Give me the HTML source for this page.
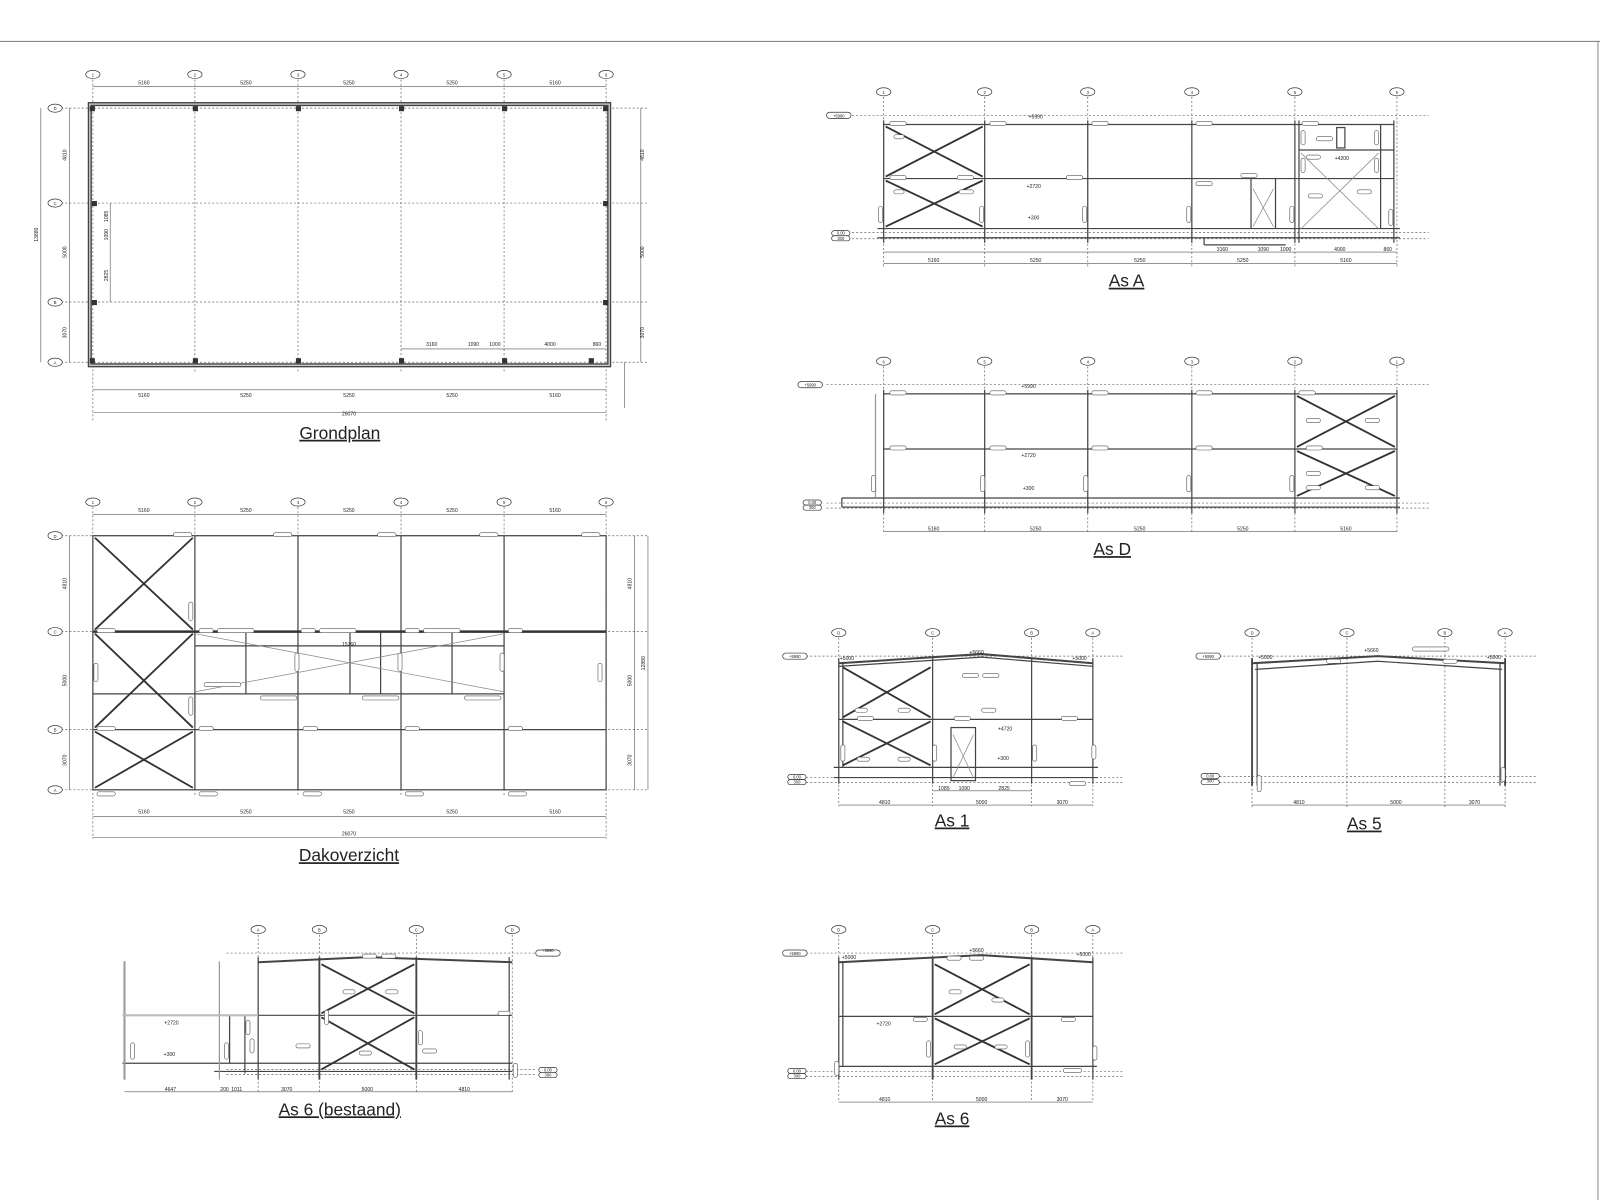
<!DOCTYPE html>
<html><head><meta charset="utf-8"><style>
html,body{margin:0;padding:0;background:#fff}
svg{display:block}
text{font-family:"Liberation Sans",sans-serif;fill:#222}
.g{stroke:#666;stroke-width:.7;stroke-dasharray:2 2;fill:none}
.f{stroke:#333;stroke-width:2.2;fill:none}
.m{stroke:#444;stroke-width:1.2;fill:none}
.t{stroke:#555;stroke-width:.6;fill:none}
.x{stroke:#333;stroke-width:1.8;fill:none}
.xl{stroke:#888;stroke-width:.7;fill:none}
.c{fill:#fff;stroke:#333;stroke-width:.7}
.p{fill:#fff;stroke:#555;stroke-width:.6}
.d{font-size:5px;text-anchor:middle}
.ti{font-size:17px;text-anchor:middle;text-decoration:underline}
</style></head><body>
<svg width="1600" height="1200" viewBox="0 0 1568 1176" preserveAspectRatio="none">
<line x1="0" y1="40.5" x2="1568" y2="40.5" stroke="#777" stroke-width="1"/>
<line x1="1566" y1="40" x2="1566" y2="1176" stroke="#888" stroke-width="1"/>

<!-- ========== GRONDPLAN ========== -->
<g>
<g class="g">
<line x1="91" y1="78" x2="91" y2="412"/><line x1="191" y1="78" x2="191" y2="365"/><line x1="292" y1="78" x2="292" y2="365"/><line x1="393" y1="78" x2="393" y2="365"/><line x1="494" y1="78" x2="494" y2="365"/><line x1="594" y1="78" x2="594" y2="412"/>
<line x1="60" y1="106" x2="635" y2="106"/><line x1="60" y1="199" x2="635" y2="199"/><line x1="60" y1="296" x2="635" y2="296"/><line x1="60" y1="355" x2="635" y2="355"/>
</g>
<g class="c">
<ellipse cx="91" cy="73" rx="7" ry="4"/><ellipse cx="191" cy="73" rx="7" ry="4"/><ellipse cx="292" cy="73" rx="7" ry="4"/><ellipse cx="393" cy="73" rx="7" ry="4"/><ellipse cx="494" cy="73" rx="7" ry="4"/><ellipse cx="594" cy="73" rx="7" ry="4"/>
<ellipse cx="54" cy="106" rx="7" ry="4"/><ellipse cx="54" cy="199" rx="7" ry="4"/><ellipse cx="54" cy="296" rx="7" ry="4"/><ellipse cx="54" cy="355" rx="7" ry="4"/>
</g>
<g font-size="4" text-anchor="middle"><text x="91" y="75">1</text><text x="191" y="75">2</text><text x="292" y="75">3</text><text x="393" y="75">4</text><text x="494" y="75">5</text><text x="594" y="75">6</text><text x="54" y="108">D</text><text x="54" y="201">C</text><text x="54" y="298">B</text><text x="54" y="357">A</text></g>
<rect x="88" y="102" width="509" height="256" fill="none" stroke="#444" stroke-width="4"/>
<rect x="88" y="102" width="509" height="256" fill="none" stroke="#ddd" stroke-width="1.2"/>
<g fill="#333"><rect x="88" y="104" width="5" height="5"/><rect x="189" y="104" width="5" height="5"/><rect x="290" y="104" width="5" height="5"/><rect x="391" y="104" width="5" height="5"/><rect x="492" y="104" width="5" height="5"/><rect x="591" y="104" width="5" height="5"/>
<rect x="90" y="197" width="5" height="5"/><rect x="90" y="294" width="5" height="5"/><rect x="591" y="197" width="5" height="5"/><rect x="591" y="294" width="5" height="5"/>
<rect x="88" y="351" width="5" height="5"/><rect x="189" y="351" width="5" height="5"/><rect x="290" y="351" width="5" height="5"/><rect x="391" y="351" width="5" height="5"/><rect x="492" y="351" width="5" height="5"/><rect x="577" y="351" width="5" height="5"/></g>
<g class="t"><line x1="91" y1="85" x2="594" y2="85"/><line x1="91" y1="382" x2="594" y2="382"/><line x1="91" y1="404" x2="594" y2="404"/>
<line x1="40" y1="106" x2="40" y2="355"/><line x1="68" y1="106" x2="68" y2="355"/><line x1="628" y1="106" x2="628" y2="355"/><line x1="108" y1="199" x2="108" y2="296"/>
<line x1="393" y1="342" x2="594" y2="342"/><line x1="612" y1="355" x2="612" y2="400"/></g>
<g class="d"><text x="141" y="83">5160</text><text x="241" y="83">5250</text><text x="342" y="83">5250</text><text x="443" y="83">5250</text><text x="544" y="83">5160</text>
<text x="141" y="389">5160</text><text x="241" y="389">5250</text><text x="342" y="389">5250</text><text x="443" y="389">5250</text><text x="544" y="389">5160</text><text x="342" y="407">26070</text>
<text x="423" y="339">3160</text><text x="464" y="339">1090</text><text x="485" y="339">1000</text><text x="539" y="339">4000</text><text x="585" y="339">860</text>
<text transform="translate(37,230) rotate(-90)">13880</text><text transform="translate(65,152) rotate(-90)">4810</text><text transform="translate(65,247) rotate(-90)">5000</text><text transform="translate(65,326) rotate(-90)">3070</text>
<text transform="translate(631,152) rotate(-90)">4810</text><text transform="translate(631,247) rotate(-90)">5000</text><text transform="translate(631,326) rotate(-90)">3070</text>
<text transform="translate(106,212) rotate(-90)">1085</text><text transform="translate(106,230) rotate(-90)">1090</text><text transform="translate(106,270) rotate(-90)">2825</text></g>
<text class="ti" x="333" y="430">Grondplan</text>
</g>

<!-- ========== DAKOVERZICHT ========== -->
<g>
<g class="g">
<line x1="91" y1="497" x2="91" y2="822"/><line x1="191" y1="497" x2="191" y2="780"/><line x1="292" y1="497" x2="292" y2="780"/><line x1="393" y1="497" x2="393" y2="780"/><line x1="494" y1="497" x2="494" y2="780"/><line x1="594" y1="497" x2="594" y2="822"/>
<line x1="60" y1="525" x2="635" y2="525"/><line x1="60" y1="619" x2="635" y2="619"/><line x1="60" y1="715" x2="635" y2="715"/><line x1="60" y1="774" x2="635" y2="774"/>
</g>
<g class="c">
<ellipse cx="91" cy="492" rx="7" ry="4"/><ellipse cx="191" cy="492" rx="7" ry="4"/><ellipse cx="292" cy="492" rx="7" ry="4"/><ellipse cx="393" cy="492" rx="7" ry="4"/><ellipse cx="494" cy="492" rx="7" ry="4"/><ellipse cx="594" cy="492" rx="7" ry="4"/>
<ellipse cx="54" cy="525" rx="7" ry="4"/><ellipse cx="54" cy="619" rx="7" ry="4"/><ellipse cx="54" cy="715" rx="7" ry="4"/><ellipse cx="54" cy="774" rx="7" ry="4"/>
</g>
<g font-size="4" text-anchor="middle"><text x="91" y="494">1</text><text x="191" y="494">2</text><text x="292" y="494">3</text><text x="393" y="494">4</text><text x="494" y="494">5</text><text x="594" y="494">6</text><text x="54" y="527">D</text><text x="54" y="621">C</text><text x="54" y="717">B</text><text x="54" y="776">A</text></g>
<g class="m">
<rect x="91" y="525" width="503" height="249"/>
<line x1="191" y1="525" x2="191" y2="774"/><line x1="292" y1="525" x2="292" y2="774"/><line x1="393" y1="525" x2="393" y2="774"/><line x1="494" y1="525" x2="494" y2="774"/>
<line x1="91" y1="715" x2="594" y2="715"/><line x1="91" y1="680" x2="494" y2="680"/>
<line x1="241" y1="619" x2="241" y2="680"/><line x1="343" y1="619" x2="343" y2="680"/><line x1="373" y1="619" x2="373" y2="680"/><line x1="443" y1="619" x2="443" y2="680"/>
<line x1="191" y1="633" x2="494" y2="633"/>
</g>
<line x1="91" y1="619" x2="594" y2="619" stroke="#333" stroke-width="2.5"/>
<g class="x"><line x1="93" y1="527" x2="189" y2="617"/><line x1="189" y1="527" x2="93" y2="617"/><line x1="93" y1="621" x2="189" y2="713"/><line x1="189" y1="621" x2="93" y2="713"/><line x1="93" y1="717" x2="189" y2="772"/><line x1="189" y1="717" x2="93" y2="772"/></g>
<g class="xl"><line x1="191" y1="621" x2="494" y2="678"/><line x1="494" y1="621" x2="191" y2="678"/></g>
<g class="p">
<rect x="170" y="522" width="18" height="4" rx="2"/><rect x="268" y="522" width="18" height="4" rx="2"/><rect x="370" y="522" width="18" height="4" rx="2"/><rect x="470" y="522" width="18" height="4" rx="2"/><rect x="570" y="522" width="18" height="4" rx="2"/>
<rect x="95" y="616" width="18" height="4" rx="2"/><rect x="195" y="616" width="14" height="4" rx="2"/><rect x="213" y="616" width="36" height="4" rx="2"/><rect x="295" y="616" width="14" height="4" rx="2"/><rect x="313" y="616" width="36" height="4" rx="2"/><rect x="397" y="616" width="14" height="4" rx="2"/><rect x="415" y="616" width="36" height="4" rx="2"/><rect x="498" y="616" width="14" height="4" rx="2"/>
<rect x="200" y="669" width="36" height="4" rx="2"/><rect x="255" y="682" width="36" height="4" rx="2"/><rect x="355" y="682" width="36" height="4" rx="2"/><rect x="455" y="682" width="36" height="4" rx="2"/>
<rect x="95" y="712" width="18" height="4" rx="2"/><rect x="195" y="712" width="14" height="4" rx="2"/><rect x="297" y="712" width="14" height="4" rx="2"/><rect x="397" y="712" width="14" height="4" rx="2"/><rect x="498" y="712" width="14" height="4" rx="2"/>
<rect x="95" y="776" width="18" height="4" rx="2"/><rect x="195" y="776" width="18" height="4" rx="2"/><rect x="297" y="776" width="18" height="4" rx="2"/><rect x="397" y="776" width="18" height="4" rx="2"/><rect x="498" y="776" width="18" height="4" rx="2"/>
<rect x="185" y="590" width="4" height="18" rx="2"/><rect x="185" y="683" width="4" height="18" rx="2"/><rect x="289" y="640" width="4" height="18" rx="2"/><rect x="390" y="640" width="4" height="18" rx="2"/><rect x="490" y="640" width="4" height="18" rx="2"/><rect x="586" y="650" width="4" height="18" rx="2"/><rect x="92" y="650" width="4" height="18" rx="2"/>
</g>
<g class="t"><line x1="91" y1="504" x2="594" y2="504"/><line x1="91" y1="800" x2="594" y2="800"/><line x1="91" y1="821" x2="594" y2="821"/>
<line x1="68" y1="525" x2="68" y2="774"/><line x1="622" y1="525" x2="622" y2="774"/><line x1="635" y1="525" x2="635" y2="774"/></g>
<g class="d"><text x="141" y="502">5160</text><text x="241" y="502">5250</text><text x="342" y="502">5250</text><text x="443" y="502">5250</text><text x="544" y="502">5160</text>
<text x="141" y="797">5160</text><text x="241" y="797">5250</text><text x="342" y="797">5250</text><text x="443" y="797">5250</text><text x="544" y="797">5160</text><text x="342" y="819">26070</text><text x="342" y="633">15760</text>
<text transform="translate(65,572) rotate(-90)">4810</text><text transform="translate(65,667) rotate(-90)">5000</text><text transform="translate(65,745) rotate(-90)">3070</text>
<text transform="translate(619,572) rotate(-90)">4810</text><text transform="translate(619,667) rotate(-90)">5000</text><text transform="translate(619,745) rotate(-90)">3070</text><text transform="translate(632,650) rotate(-90)">12880</text></g>
<text class="ti" x="342" y="844">Dakoverzicht</text>
</g>

<!-- ========== AS A ========== -->
<g>
<g class="g">
<line x1="866" y1="95" x2="866" y2="262"/><line x1="965" y1="95" x2="965" y2="262"/><line x1="1066" y1="95" x2="1066" y2="262"/><line x1="1168" y1="95" x2="1168" y2="262"/><line x1="1269" y1="95" x2="1269" y2="262"/><line x1="1369" y1="95" x2="1369" y2="262"/>
<line x1="835" y1="113" x2="1400" y2="113"/><line x1="835" y1="228" x2="1400" y2="228"/><line x1="835" y1="234" x2="1400" y2="234"/>
</g>
<g class="c">
<ellipse cx="866" cy="90" rx="7" ry="4"/><ellipse cx="965" cy="90" rx="7" ry="4"/><ellipse cx="1066" cy="90" rx="7" ry="4"/><ellipse cx="1168" cy="90" rx="7" ry="4"/><ellipse cx="1269" cy="90" rx="7" ry="4"/><ellipse cx="1369" cy="90" rx="7" ry="4"/>
<rect x="810" y="110" width="24" height="6" rx="3"/><rect x="815" y="226" width="18" height="5" rx="2.5"/><rect x="815" y="231" width="18" height="5" rx="2.5"/>
</g>
<g font-size="4" text-anchor="middle"><text x="866" y="92">1</text><text x="965" y="92">2</text><text x="1066" y="92">3</text><text x="1168" y="92">4</text><text x="1269" y="92">5</text><text x="1369" y="92">6</text><text x="822" y="115">+5990</text><text x="824" y="230">0.00</text><text x="824" y="235">300</text></g>
<g class="m">
<line x1="866" y1="122" x2="1366" y2="122"/><line x1="866" y1="175" x2="1366" y2="175"/><line x1="860" y1="224" x2="1372" y2="224"/><line x1="860" y1="233" x2="1372" y2="233"/>
<line x1="866" y1="118" x2="866" y2="238"/><line x1="965" y1="118" x2="965" y2="238"/><line x1="1066" y1="118" x2="1066" y2="238"/><line x1="1168" y1="118" x2="1168" y2="238"/><line x1="1269" y1="118" x2="1269" y2="238"/><line x1="1273" y1="118" x2="1273" y2="238"/><line x1="1366" y1="118" x2="1366" y2="238"/><line x1="1353" y1="122" x2="1353" y2="224"/>
<line x1="1273" y1="147" x2="1366" y2="147"/><rect x="1310" y="125" width="8" height="20"/>
<line x1="1226" y1="175" x2="1226" y2="224"/><line x1="1250" y1="175" x2="1250" y2="224"/><line x1="1180" y1="233" x2="1180" y2="240"/><line x1="1180" y1="240" x2="1260" y2="240"/>
</g>
<g class="x"><line x1="868" y1="124" x2="963" y2="173"/><line x1="963" y1="124" x2="868" y2="173"/><line x1="868" y1="177" x2="963" y2="222"/><line x1="963" y1="177" x2="868" y2="222"/></g>
<g class="xl"><line x1="1275" y1="150" x2="1351" y2="224"/><line x1="1351" y1="150" x2="1275" y2="224"/><line x1="1228" y1="185" x2="1248" y2="222"/><line x1="1248" y1="185" x2="1228" y2="222"/></g>
<g class="p">
<rect x="872" y="119" width="16" height="4" rx="2"/><rect x="970" y="119" width="16" height="4" rx="2"/><rect x="1070" y="119" width="16" height="4" rx="2"/><rect x="1172" y="119" width="16" height="4" rx="2"/><rect x="1276" y="119" width="16" height="4" rx="2"/>
<rect x="872" y="172" width="16" height="4" rx="2"/><rect x="938" y="172" width="16" height="4" rx="2"/><rect x="1045" y="172" width="16" height="4" rx="2"/><rect x="1172" y="178" width="16" height="4" rx="2"/><rect x="1216" y="170" width="16" height="4" rx="2"/>
<rect x="876" y="132" width="10" height="4" rx="2"/><rect x="940" y="186" width="14" height="4" rx="2"/><rect x="876" y="186" width="10" height="4" rx="2"/><rect x="1290" y="134" width="16" height="4" rx="2"/><rect x="1280" y="152" width="14" height="4" rx="2"/><rect x="1330" y="186" width="14" height="4" rx="2"/><rect x="1282" y="190" width="14" height="4" rx="2"/>
<rect x="861" y="202" width="4" height="16" rx="2"/><rect x="960" y="202" width="4" height="16" rx="2"/><rect x="1061" y="202" width="4" height="16" rx="2"/><rect x="1163" y="202" width="4" height="16" rx="2"/><rect x="1264" y="202" width="4" height="16" rx="2"/><rect x="1361" y="205" width="4" height="16" rx="2"/><rect x="1275" y="128" width="4" height="14" rx="2"/><rect x="1347" y="128" width="4" height="14" rx="2"/><rect x="1275" y="155" width="4" height="14" rx="2"/><rect x="1347" y="155" width="4" height="14" rx="2"/>
</g>
<g class="t"><line x1="866" y1="247" x2="1369" y2="247"/><line x1="866" y1="258" x2="1369" y2="258"/></g>
<g class="d"><text x="1015" y="116">+5990</text><text x="1013" y="184">+2720</text><text x="1013" y="215">+300</text><text x="1315" y="157">+4200</text>
<text x="1198" y="246">3160</text><text x="1238" y="246">1090</text><text x="1260" y="246">1000</text><text x="1313" y="246">4000</text><text x="1360" y="246">860</text>
<text x="915" y="257">5160</text><text x="1015" y="257">5250</text><text x="1117" y="257">5250</text><text x="1218" y="257">5250</text><text x="1319" y="257">5160</text></g>
<text class="ti" x="1104" y="281">As A</text>
</g>

<!-- ========== AS D ========== -->
<g>
<g class="g">
<line x1="866" y1="359" x2="866" y2="523"/><line x1="965" y1="359" x2="965" y2="523"/><line x1="1066" y1="359" x2="1066" y2="523"/><line x1="1168" y1="359" x2="1168" y2="523"/><line x1="1269" y1="359" x2="1269" y2="523"/><line x1="1369" y1="359" x2="1369" y2="523"/>
<line x1="810" y1="377" x2="1400" y2="377"/><line x1="810" y1="493" x2="1400" y2="493"/><line x1="810" y1="498" x2="1400" y2="498"/>
</g>
<g class="c">
<ellipse cx="866" cy="354" rx="7" ry="4"/><ellipse cx="965" cy="354" rx="7" ry="4"/><ellipse cx="1066" cy="354" rx="7" ry="4"/><ellipse cx="1168" cy="354" rx="7" ry="4"/><ellipse cx="1269" cy="354" rx="7" ry="4"/><ellipse cx="1369" cy="354" rx="7" ry="4"/>
<rect x="782" y="374" width="24" height="6" rx="3"/><rect x="787" y="490" width="18" height="5" rx="2.5"/><rect x="787" y="495" width="18" height="5" rx="2.5"/>
</g>
<g font-size="4" text-anchor="middle"><text x="866" y="356">6</text><text x="965" y="356">5</text><text x="1066" y="356">4</text><text x="1168" y="356">3</text><text x="1269" y="356">2</text><text x="1369" y="356">1</text><text x="794" y="379">+5990</text><text x="796" y="494">0.00</text><text x="796" y="499">300</text></g>
<g class="m">
<line x1="866" y1="386" x2="1369" y2="386"/><line x1="866" y1="440" x2="1369" y2="440"/><line x1="825" y1="488" x2="1372" y2="488"/><line x1="825" y1="497" x2="1372" y2="497"/><line x1="825" y1="488" x2="825" y2="497"/>
<line x1="866" y1="382" x2="866" y2="503"/><line x1="965" y1="382" x2="965" y2="503"/><line x1="1066" y1="382" x2="1066" y2="503"/><line x1="1168" y1="382" x2="1168" y2="503"/><line x1="1269" y1="382" x2="1269" y2="503"/><line x1="1369" y1="382" x2="1369" y2="503"/>
<line x1="858" y1="386" x2="858" y2="488" stroke="#999"/>
</g>
<g class="x"><line x1="1271" y1="388" x2="1367" y2="438"/><line x1="1367" y1="388" x2="1271" y2="438"/><line x1="1271" y1="442" x2="1367" y2="486"/><line x1="1367" y1="442" x2="1271" y2="486"/></g>
<g class="p">
<rect x="872" y="383" width="16" height="4" rx="2"/><rect x="970" y="383" width="16" height="4" rx="2"/><rect x="1070" y="383" width="16" height="4" rx="2"/><rect x="1172" y="383" width="16" height="4" rx="2"/><rect x="1273" y="383" width="16" height="4" rx="2"/>
<rect x="872" y="437" width="16" height="4" rx="2"/><rect x="970" y="437" width="16" height="4" rx="2"/><rect x="1070" y="437" width="16" height="4" rx="2"/><rect x="1172" y="437" width="16" height="4" rx="2"/><rect x="1280" y="437" width="16" height="4" rx="2"/>
<rect x="1280" y="410" width="14" height="4" rx="2"/><rect x="1338" y="410" width="14" height="4" rx="2"/><rect x="1280" y="462" width="14" height="4" rx="2"/><rect x="1338" y="476" width="14" height="4" rx="2"/><rect x="1280" y="476" width="14" height="4" rx="2"/>
<rect x="854" y="466" width="4" height="16" rx="2"/><rect x="961" y="466" width="4" height="16" rx="2"/><rect x="1062" y="466" width="4" height="16" rx="2"/><rect x="1163" y="466" width="4" height="16" rx="2"/><rect x="1264" y="466" width="4" height="16" rx="2"/>
</g>
<g class="t"><line x1="866" y1="521" x2="1369" y2="521"/></g>
<g class="d"><text x="1008" y="380">+5990</text><text x="1008" y="448">+2720</text><text x="1008" y="480">+300</text>
<text x="915" y="520">5160</text><text x="1015" y="520">5250</text><text x="1117" y="520">5250</text><text x="1218" y="520">5250</text><text x="1319" y="520">5160</text></g>
<text class="ti" x="1090" y="544">As D</text>
</g>

<!-- ========== AS 1 ========== -->
<g>
<g class="g">
<line x1="822" y1="625" x2="822" y2="790"/><line x1="914" y1="625" x2="914" y2="790"/><line x1="1011" y1="625" x2="1011" y2="790"/><line x1="1071" y1="625" x2="1071" y2="790"/>
<line x1="790" y1="643" x2="1100" y2="643"/><line x1="790" y1="762" x2="1100" y2="762"/><line x1="790" y1="767" x2="1100" y2="767"/>
</g>
<g class="c"><ellipse cx="822" cy="620" rx="7" ry="4"/><ellipse cx="914" cy="620" rx="7" ry="4"/><ellipse cx="1011" cy="620" rx="7" ry="4"/><ellipse cx="1071" cy="620" rx="7" ry="4"/>
<rect x="767" y="640" width="24" height="6" rx="3"/><rect x="772" y="759" width="18" height="5" rx="2.5"/><rect x="772" y="764" width="18" height="5" rx="2.5"/></g>
<g font-size="4" text-anchor="middle"><text x="822" y="622">D</text><text x="914" y="622">C</text><text x="1011" y="622">B</text><text x="1071" y="622">A</text><text x="779" y="645">+5990</text><text x="781" y="763">0.00</text><text x="781" y="768">300</text></g>
<g class="m">
<polyline points="822,650 962,641 1071,650" stroke-width="2"/><polyline points="822,653 962,644 1071,653"/>
<line x1="822" y1="705" x2="1071" y2="705"/><line x1="817" y1="752" x2="1076" y2="752"/><line x1="817" y1="762" x2="1076" y2="762"/>
<line x1="822" y1="645" x2="822" y2="768"/><line x1="826" y1="650" x2="826" y2="752"/><line x1="914" y1="645" x2="914" y2="768"/><line x1="1011" y1="645" x2="1011" y2="768"/><line x1="1071" y1="645" x2="1071" y2="768"/>
<rect x="932" y="713" width="24" height="52"/>
</g>
<g class="x"><line x1="826" y1="654" x2="912" y2="703"/><line x1="912" y1="654" x2="826" y2="703"/><line x1="826" y1="707" x2="912" y2="750"/><line x1="912" y1="707" x2="826" y2="750"/></g>
<g class="xl"><line x1="934" y1="720" x2="954" y2="762"/><line x1="954" y1="720" x2="934" y2="762"/></g>
<g class="p"><rect x="943" y="660" width="16" height="4" rx="2"/><rect x="963" y="660" width="16" height="4" rx="2"/><rect x="840" y="702" width="16" height="4" rx="2"/><rect x="935" y="702" width="16" height="4" rx="2"/><rect x="1040" y="702" width="16" height="4" rx="2"/><rect x="962" y="694" width="14" height="4" rx="2"/>
<rect x="838" y="694" width="12" height="4" rx="2"/><rect x="880" y="694" width="12" height="4" rx="2"/><rect x="840" y="742" width="12" height="4" rx="2"/><rect x="880" y="742" width="12" height="4" rx="2"/><rect x="1048" y="766" width="16" height="4" rx="2"/>
<rect x="824" y="730" width="4" height="16" rx="2"/><rect x="914" y="730" width="4" height="16" rx="2"/><rect x="1012" y="730" width="4" height="16" rx="2"/><rect x="1070" y="730" width="4" height="14" rx="2"/></g>
<g class="t"><line x1="914" y1="775" x2="1011" y2="775"/><line x1="822" y1="789" x2="1071" y2="789"/></g>
<g class="d"><text x="830" y="647">+5000</text><text x="957" y="641">+5660</text><text x="1058" y="647">+5000</text><text x="985" y="716">+4720</text><text x="983" y="745">+300</text>
<text x="925" y="774">1085</text><text x="945" y="774">1090</text><text x="984" y="774">2825</text>
<text x="867" y="788">4810</text><text x="962" y="788">5000</text><text x="1041" y="788">3070</text></g>
<text class="ti" x="933" y="810">As 1</text>
</g>

<!-- ========== AS 5 ========== -->
<g>
<g class="g">
<line x1="1227" y1="625" x2="1227" y2="792"/><line x1="1320" y1="625" x2="1320" y2="792"/><line x1="1416" y1="625" x2="1416" y2="792"/><line x1="1475" y1="625" x2="1475" y2="792"/>
<line x1="1195" y1="643" x2="1505" y2="643"/><line x1="1195" y1="761" x2="1505" y2="761"/><line x1="1195" y1="767" x2="1505" y2="767"/>
</g>
<g class="c"><ellipse cx="1227" cy="620" rx="7" ry="4"/><ellipse cx="1320" cy="620" rx="7" ry="4"/><ellipse cx="1416" cy="620" rx="7" ry="4"/><ellipse cx="1475" cy="620" rx="7" ry="4"/>
<rect x="1172" y="640" width="24" height="6" rx="3"/><rect x="1177" y="758" width="18" height="5" rx="2.5"/><rect x="1177" y="764" width="18" height="5" rx="2.5"/></g>
<g font-size="4" text-anchor="middle"><text x="1227" y="622">D</text><text x="1320" y="622">C</text><text x="1416" y="622">B</text><text x="1475" y="622">A</text><text x="1184" y="645">+5990</text><text x="1186" y="762">0.00</text><text x="1186" y="767">300</text></g>
<g class="m">
<polyline points="1227,650 1350,643 1475,650" stroke-width="2"/><polyline points="1230,656 1350,648 1472,656"/>
<line x1="1227" y1="645" x2="1227" y2="770" stroke-width="1.8"/><line x1="1232" y1="650" x2="1232" y2="770"/><line x1="1475" y1="645" x2="1475" y2="770" stroke-width="1.8"/><line x1="1470" y1="650" x2="1470" y2="770"/>
</g>
<g class="p"><rect x="1384" y="634" width="36" height="4" rx="2"/><rect x="1300" y="646" width="14" height="4" rx="2"/><rect x="1414" y="646" width="14" height="4" rx="2"/><rect x="1232" y="760" width="4" height="16" rx="2"/><rect x="1471" y="752" width="4" height="14" rx="2"/></g>
<g class="t"><line x1="1227" y1="789" x2="1475" y2="789"/></g>
<g class="d"><text x="1240" y="646">+5000</text><text x="1344" y="639">+5660</text><text x="1464" y="646">+5000</text>
<text x="1273" y="788">4810</text><text x="1368" y="788">5000</text><text x="1445" y="788">3070</text></g>
<text class="ti" x="1337" y="813">As 5</text>
</g>

<!-- ========== AS 6 (BESTAAND) ========== -->
<g>
<g class="g">
<line x1="253" y1="916" x2="253" y2="1072"/><line x1="313" y1="916" x2="313" y2="1072"/><line x1="408" y1="916" x2="408" y2="1072"/><line x1="502" y1="916" x2="502" y2="1072"/>
<line x1="222" y1="934" x2="525" y2="934"/><line x1="222" y1="1048" x2="525" y2="1048"/><line x1="222" y1="1053" x2="525" y2="1053"/>
</g>
<g class="c"><ellipse cx="253" cy="911" rx="7" ry="4"/><ellipse cx="313" cy="911" rx="7" ry="4"/><ellipse cx="408" cy="911" rx="7" ry="4"/><ellipse cx="502" cy="911" rx="7" ry="4"/>
<rect x="525" y="931" width="24" height="6" rx="3"/><rect x="528" y="1046" width="18" height="5" rx="2.5"/><rect x="528" y="1051" width="18" height="5" rx="2.5"/></g>
<g font-size="4" text-anchor="middle"><text x="253" y="913">A</text><text x="313" y="913">B</text><text x="408" y="913">C</text><text x="502" y="913">D</text><text x="537" y="933">+5990</text><text x="537" y="1050">0.00</text><text x="537" y="1055">300</text></g>
<g class="m">
<polyline points="253,943 360,938 502,943" stroke-width="2"/>
<line x1="253" y1="995" x2="502" y2="995"/><line x1="120" y1="1042" x2="502" y2="1042"/><line x1="210" y1="1050" x2="502" y2="1050"/>
<line x1="253" y1="938" x2="253" y2="1058"/><line x1="313" y1="938" x2="313" y2="1058" stroke-width="1.8"/><line x1="408" y1="938" x2="408" y2="1058" stroke-width="1.8"/><line x1="499" y1="938" x2="499" y2="1058"/>
<line x1="122" y1="942" x2="122" y2="1058" stroke="#999" stroke-width="2"/><line x1="215" y1="942" x2="215" y2="1058" stroke="#999"/><line x1="225" y1="995" x2="225" y2="1042"/><line x1="240" y1="995" x2="240" y2="1052"/>
</g>
<line x1="120" y1="995" x2="253" y2="995" stroke="#bbb" stroke-width="2"/>
<g class="x"><line x1="315" y1="945" x2="406" y2="993"/><line x1="406" y1="945" x2="315" y2="993"/><line x1="315" y1="997" x2="406" y2="1048"/><line x1="406" y1="997" x2="315" y2="1048"/></g>
<g class="p"><rect x="355" y="935" width="14" height="4" rx="2"/><rect x="374" y="935" width="14" height="4" rx="2"/><rect x="336" y="970" width="12" height="4" rx="2"/><rect x="378" y="970" width="12" height="4" rx="2"/><rect x="352" y="1030" width="12" height="4" rx="2"/><rect x="290" y="1023" width="14" height="4" rx="2"/><rect x="414" y="1028" width="14" height="4" rx="2"/><rect x="488" y="991" width="12" height="4" rx="2"/>
<rect x="128" y="1022" width="4" height="16" rx="2"/><rect x="220" y="1022" width="4" height="16" rx="2"/><rect x="241" y="1000" width="4" height="14" rx="2"/><rect x="245" y="1018" width="4" height="14" rx="2"/><rect x="318" y="990" width="4" height="14" rx="2"/><rect x="410" y="1010" width="4" height="14" rx="2"/><rect x="503" y="1042" width="4" height="14" rx="2"/></g>
<g class="t"><line x1="122" y1="1070" x2="502" y2="1070"/></g>
<g class="d"><text x="168" y="1004">+2720</text><text x="166" y="1035">+300</text><text x="167" y="1069">4647</text><text x="220" y="1069">200</text><text x="232" y="1069">1011</text><text x="281" y="1069">3070</text><text x="360" y="1069">5000</text><text x="455" y="1069">4810</text></g>
<text class="ti" x="333" y="1093">As 6 (bestaand)</text>
</g>

<!-- ========== AS 6 ========== -->
<g>
<g class="g">
<line x1="822" y1="916" x2="822" y2="1080"/><line x1="914" y1="916" x2="914" y2="1080"/><line x1="1011" y1="916" x2="1011" y2="1080"/><line x1="1071" y1="916" x2="1071" y2="1080"/>
<line x1="790" y1="934" x2="1100" y2="934"/><line x1="790" y1="1050" x2="1100" y2="1050"/><line x1="790" y1="1055" x2="1100" y2="1055"/>
</g>
<g class="c"><ellipse cx="822" cy="911" rx="7" ry="4"/><ellipse cx="914" cy="911" rx="7" ry="4"/><ellipse cx="1011" cy="911" rx="7" ry="4"/><ellipse cx="1071" cy="911" rx="7" ry="4"/>
<rect x="767" y="931" width="24" height="6" rx="3"/><rect x="772" y="1047" width="18" height="5" rx="2.5"/><rect x="772" y="1052" width="18" height="5" rx="2.5"/></g>
<g font-size="4" text-anchor="middle"><text x="822" y="913">D</text><text x="914" y="913">C</text><text x="1011" y="913">B</text><text x="1071" y="913">A</text><text x="779" y="936">+5990</text><text x="781" y="1051">0.00</text><text x="781" y="1056">300</text></g>
<g class="m">
<polyline points="822,943 962,936 1071,943" stroke-width="2"/>
<line x1="822" y1="996" x2="1071" y2="996"/><line x1="818" y1="1045" x2="1075" y2="1045"/>
<line x1="822" y1="938" x2="822" y2="1058"/><line x1="826" y1="943" x2="826" y2="1045"/><line x1="914" y1="938" x2="914" y2="1058" stroke-width="1.8"/><line x1="1011" y1="938" x2="1011" y2="1058" stroke-width="1.8"/><line x1="1071" y1="938" x2="1071" y2="1058"/>
</g>
<g class="x"><line x1="916" y1="945" x2="1009" y2="994"/><line x1="1009" y1="945" x2="916" y2="994"/><line x1="916" y1="998" x2="1009" y2="1043"/><line x1="1009" y1="998" x2="916" y2="1043"/></g>
<g class="p"><rect x="928" y="937" width="14" height="4" rx="2"/><rect x="950" y="937" width="14" height="4" rx="2"/><rect x="930" y="970" width="12" height="4" rx="2"/><rect x="972" y="978" width="12" height="4" rx="2"/><rect x="895" y="997" width="14" height="4" rx="2"/><rect x="1040" y="997" width="14" height="4" rx="2"/><rect x="935" y="1024" width="12" height="4" rx="2"/><rect x="975" y="1024" width="12" height="4" rx="2"/><rect x="1042" y="1047" width="18" height="4" rx="2"/>
<rect x="908" y="1020" width="4" height="16" rx="2"/><rect x="1005" y="1020" width="4" height="16" rx="2"/><rect x="1071" y="1025" width="4" height="14" rx="2"/><rect x="818" y="1040" width="4" height="14" rx="2"/></g>
<g class="t"><line x1="822" y1="1080" x2="1071" y2="1080"/></g>
<g class="d"><text x="832" y="940">+5000</text><text x="957" y="933">+5660</text><text x="1062" y="937">+5000</text><text x="866" y="1005">+2720</text>
<text x="867" y="1079">4810</text><text x="962" y="1079">5000</text><text x="1041" y="1079">3070</text></g>
<text class="ti" x="933" y="1102">As 6</text>
</g>
</svg>
</body></html>
